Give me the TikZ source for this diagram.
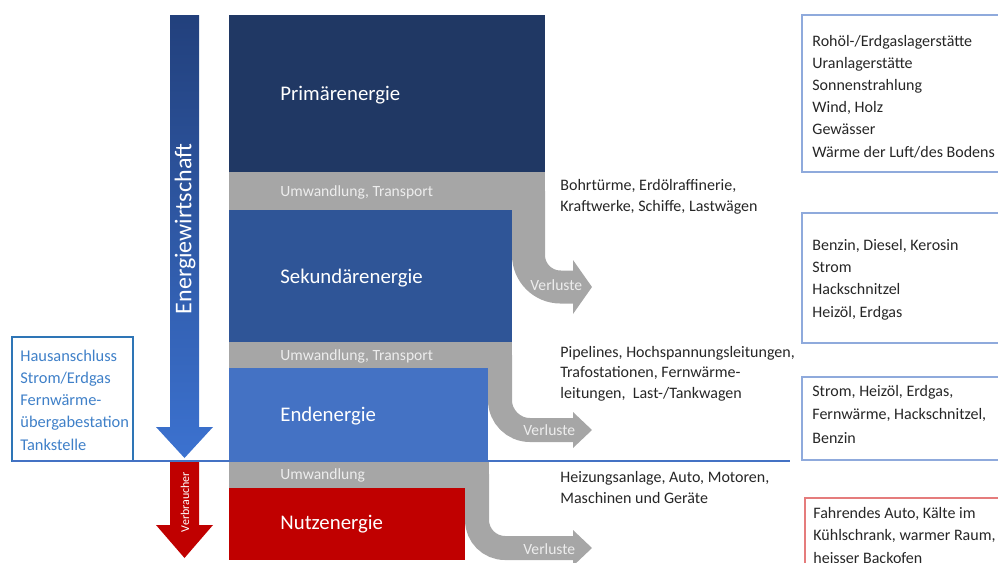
\documentclass[tikz,border=0pt]{standalone}
\usepackage{fontspec}
\setmainfont{Carlito}
\usetikzlibrary{positioning}
\definecolor{primblue}{HTML}{203864}
\definecolor{sekblue}{HTML}{2F5597}
\definecolor{endblue}{HTML}{4472C4}
\definecolor{nutzred}{HTML}{C00000}
\definecolor{bandgray}{HTML}{A6A6A6}
\definecolor{bandtext}{HTML}{EDEDED}
\definecolor{infotext}{HTML}{262626}
\definecolor{frameblue}{HTML}{8FAADC}
\definecolor{framered}{HTML}{E57C7C}
\definecolor{hausblue}{HTML}{2E75B6}
\definecolor{haustext}{HTML}{3F80C8}
\definecolor{sepblue}{HTML}{4472C4}
\definecolor{ewtop}{HTML}{22407C}
\definecolor{ewbottom}{HTML}{3C72D0}
\begin{document}
\begin{tikzpicture}[
    x=0.5pt, y=-0.5pt,
    level/.style={anchor=west, inner sep=0, text=white, font=\fontsize{10.4}{12}\selectfont},
    conv/.style={anchor=west, inner sep=0, text=bandtext, font=\fontsize{7.8}{9}\selectfont},
    info/.style={anchor=base west, align=left, inner sep=0, text=infotext, font=\fontsize{8}{11.1}\selectfont},
    mid/.style={info, font=\fontsize{8}{10.2}\selectfont},
    frame/.style={draw=frameblue, line width=0.6pt},
    loss/.style={draw=bandgray, line cap=butt},
    losstip/.style={fill=bandgray},
    losslbl/.style={anchor=west, inner sep=0, text=bandtext, font=\fontsize{7.8}{9}\selectfont}
]
\useasboundingbox (0,0) rectangle (998,563);

\fill[bandgray] (229,172) rectangle (545,210);
\fill[bandgray] (229,342) rectangle (512,368);
\fill[bandgray] (229,461) rectangle (489,488);

\coordinate (loss1 start) at (528.5,191);
\coordinate (loss1 end) at (573,287);
\draw[loss, line width=16.5pt, rounded corners=16pt] (loss1 start) |- (loss1 end);
\fill[losstip] (loss1 end) ++(0,-27) -- ++(19,27) -- ++(-19,27) -- cycle;
\node[losslbl] (verl1) at (530,285) {Verluste};

\coordinate (loss2 start) at (500,355);
\coordinate (loss2 end) at (573,430);
\draw[loss, line width=12pt, rounded corners=15pt] (loss2 start) |- (loss2 end);
\fill[losstip] (loss2 end) ++(0,-18) -- ++(19,18) -- ++(-19,18) -- cycle;
\node[losslbl] (verl2) at (523,430) {Verluste};

\coordinate (loss3 start) at (477,474);
\coordinate (loss3 end) at (573,548);
\draw[loss, line width=12pt, rounded corners=14pt] (loss3 start) |- (loss3 end);
\fill[losstip] (loss3 end) ++(0,-18) -- ++(19,18) -- ++(-19,18) -- cycle;
\node[losslbl] (verl3) at (523,549) {Verluste};

\fill[primblue] (229,15) rectangle (545,172);
\fill[sekblue] (229,210) rectangle (512,342);
\fill[endblue] (229,368) rectangle (488,461);
\fill[nutzred] (229,488) rectangle (465,560);
\node[level] (prim) at (280,95) {Primärenergie};
\node[level] (sek) at (280,278) {Sekundärenergie};
\node[level] (end) at (280,416) {Endenergie};
\node[level] (nutz) at (280,524) {Nutzenergie};
\node[conv] (umw1) at (280,192) {Umwandlung, Transport};
\node[conv] (umw2) at (280,356) {Umwandlung, Transport};
\node[conv] (umw3) at (280,475) {Umwandlung};

\shade[top color=ewtop, bottom color=ewbottom] (170,15) -- (199,15) -- (199,427) -- (213,427) -- (184.5,458) -- (156,427) -- (170,427) -- cycle;
\node[rotate=90, text=white, font=\fontsize{12}{14}\selectfont] (ew) at (185,229) {Energiewirtschaft};
\fill[nutzred] (170,462) -- (199,462) -- (199,525) -- (213,525) -- (184.5,558) -- (156,525) -- (170,525) -- cycle;
\node[rotate=90, text=white, font=\fontsize{6}{7}\selectfont] (verb) at (185,502) {Verbraucher};

\draw[hausblue, line width=0.9pt] (12,337) rectangle (133,461);
\node[info, text=haustext, font=\fontsize{8.2}{11.1}\selectfont] (haus) at (20,450) {Hausanschluss\\Strom/Erdgas\\Fernwärme-\\übergabestation\\Tankstelle};
\coordinate (sep west) at (12,461);
\coordinate (sep east) at (790,461);
\draw[sepblue, line width=1pt] (sep west) -- (sep east);

\node[mid] (conv1) at (560,211) {Bohrtürme, Erdölraffinerie,\\Kraftwerke, Schiffe, Lastwägen};
\node[mid] (conv2) at (560,398) {Pipelines, Hochspannungsleitungen,\\Trafostationen, Fernwärme-\\leitungen,~ Last-/Tankwagen};
\node[mid] (conv3) at (560,503) {Heizungsanlage, Auto, Motoren,\\Maschinen und Geräte};

\draw[frame] (802,15) rectangle (1005,172);
\node[info] (primsrc) at (812,157) {Rohöl-/Erdgaslagerstätte\\Uranlagerstätte\\Sonnenstrahlung\\Wind, Holz\\Gewässer\\Wärme der Luft/des Bodens};
\draw[frame] (802,213) rectangle (1005,343);
\node[info] (seksrc) at (812,317) {Benzin, Diesel, Kerosin\\Strom\\Hackschnitzel\\Heizöl, Erdgas};
\draw[frame] (802,377) rectangle (1005,460);
\node[info, font=\fontsize{8}{11.6}\selectfont] (endsrc) at (812,443) {Strom, Heizöl, Erdgas,\\Fernwärme, Hackschnitzel,\\Benzin};
\draw[draw=framered, line width=0.6pt] (805,498) rectangle (1005,600);
\node[info] (nutzsrc) at (813,563) {Fahrendes Auto, Kälte im\\Kühlschrank, warmer Raum,\\heisser Backofen};
\end{tikzpicture}
\end{document}
